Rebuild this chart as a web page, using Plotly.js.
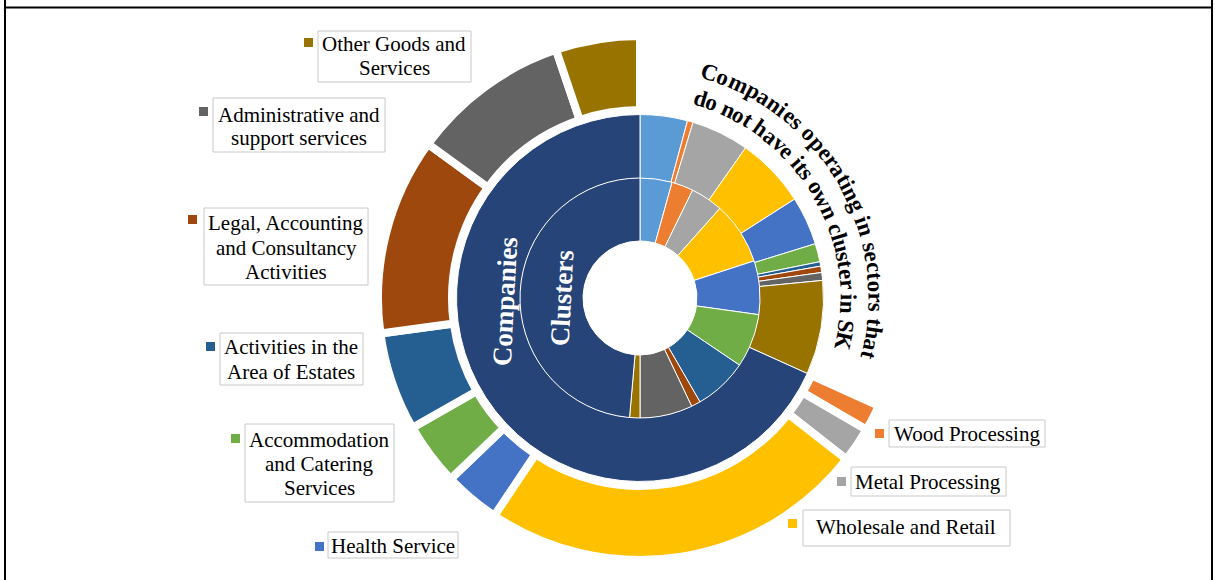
<!DOCTYPE html>
<html><head><meta charset="utf-8">
<script src="https://cdn.plot.ly/plotly-3.0.1.min.js"></script>
<style>html,body{margin:0;padding:0;background:#fff;}#chart{width:1215px;height:580px;}</style>
</head><body><div id="chart"></div>
<script>
// ---------------- data ----------------
const sectors = ['Other Sector', 'Wood Processing', 'Metal Processing', 'Wholesale and Retail',
  'Health Service', 'Accommodation and Catering Services', 'Activities in the Area of Estates',
  'Legal, Accounting and Consultancy Activities', 'Administrative and support services',
  'Other Goods and Services', 'Remaining'];
const sectorColors = ['#5B9BD5', '#ED7D31', '#A5A5A5', '#FFC000', '#4472C4', '#70AD47',
  '#255E91', '#9E480E', '#636363', '#997300', '#264478'];
// inner ring: Clusters
const clusterValues = [15.5, 10.5, 15.7, 30.3, 26, 26, 26, 4.5, 25.5, 5, 175];
// middle ring: Companies
const companyValues = [15.0, 1.8, 18.3, 22.3, 15.4, 5.8, 1.4, 2.0, 2.5, 29.8, 245.7];
// outer ring: companies operating in cluster sectors (first part blank)
const outerSectors = ['Wood Processing', 'Metal Processing', 'Wholesale and Retail', 'Health Service',
  'Accommodation and Catering Services', 'Activities in the Area of Estates',
  'Legal, Accounting and Consultancy Activities', 'Administrative and support services',
  'Other Goods and Services'];
const outerColors = ['#ED7D31', '#A5A5A5', '#FFC000', '#4472C4', '#70AD47', '#255E91', '#9E480E', '#636363', '#997300'];
const outerBlankValue = 114.3;
const outerValues = [5.9, 7.8, 85.8, 12.5, 14.0, 21.9, 43.8, 35.3, 18.7];
const outerLabelLines = [['Wood Processing'], ['Metal Processing'], ['Wholesale and Retail'], ['Health Service'],
  ['Accommodation', 'and Catering', 'Services'], ['Activities in the', 'Area of Estates'],
  ['Legal, Accounting', 'and Consultancy', 'Activities'], ['Administrative and', 'support services'],
  ['Other Goods and', 'Services']];
const ringTitles = ['Companies', 'Clusters'];
const arcTitleLines = ['Companies operating in sectors that', 'do not have its own cluster in SK'];

// ---------------- layout helpers ----------------
const W = 1215, H = 580, CX = 640, CY = 298;
const px = x => x / W, py = y => 1 - y / H;
function dom(R) { return {x: [px(CX - R), px(CX + R)], y: [py(CY + R), py(CY - R)]}; }

const labelPos = [
  {box: [889, 420, 1045, 447], sq: [875, 429], ys: [434], cx: 967},
  {box: [851, 467, 1006, 496], sq: [837, 477], ys: [482], cx: 928},
  {box: [803, 510, 1010, 546], sq: [788, 519], ys: [527], cx: 906},
  {box: [328, 532, 458, 558], sq: [315, 542], ys: [546], cx: 393},
  {box: [245, 424, 394, 502], sq: [231, 434], ys: [440, 464, 488], cx: 319},
  {box: [220, 333, 363, 385], sq: [206, 342], ys: [347, 372], cx: 291},
  {box: [204, 208, 368, 285], sq: [188, 215], ys: [223, 248, 272], cx: 286},
  {box: [213, 98, 385, 152], sq: [199, 107], ys: [115, 138], cx: 299},
  {box: [318, 31, 471, 82], sq: [304, 38], ys: [44, 68], cx: 394}
];

const serif = 'Liberation Serif, Times New Roman, serif';
const traces = [
  {type: 'pie', values: clusterValues, labels: sectors.map(s => 'Clusters: ' + s),
   marker: {colors: sectorColors, line: {color: '#ffffff', width: 1}},
   domain: dom(120.5), hole: 57 / 120.5, sort: false, direction: 'clockwise', rotation: 0,
   textinfo: 'none', hoverinfo: 'label+value', showlegend: false},
  {type: 'pie', values: companyValues, labels: sectors.map(s => 'Companies: ' + s),
   marker: {colors: sectorColors, line: {color: '#ffffff', width: 1}},
   domain: dom(183.5), hole: 120 / 183.5, sort: false, direction: 'clockwise', rotation: 0,
   textinfo: 'none', hoverinfo: 'label+value', showlegend: false},
  {type: 'pie', values: [outerBlankValue].concat(outerValues), labels: ['blank'].concat(outerSectors),
   marker: {colors: ['rgba(0,0,0,0)'].concat(outerColors), line: {color: '#ffffff', width: 8}},
   domain: dom(262), hole: 188 / 262, sort: false, direction: 'clockwise', rotation: 0,
   textinfo: 'none', hoverinfo: 'label+value', showlegend: false}
];

const shapes = [], annotations = [];
// frame
shapes.push({type: 'line', xref: 'paper', yref: 'paper', x0: px(5), x1: px(5), y0: 0, y1: 1, line: {color: '#000', width: 2}});
shapes.push({type: 'line', xref: 'paper', yref: 'paper', x0: px(1212), x1: px(1212), y0: 0, y1: 1, line: {color: '#000', width: 2}});
shapes.push({type: 'line', xref: 'paper', yref: 'paper', x0: px(5), x1: px(1212), y0: py(7.5), y1: py(7.5), line: {color: '#000', width: 2}});

labelPos.forEach((p, i) => {
  shapes.push({type: 'rect', xref: 'paper', yref: 'paper', x0: px(p.box[0]), x1: px(p.box[2]),
    y0: py(p.box[3]), y1: py(p.box[1]), line: {color: '#C8C8C8', width: 1}, fillcolor: '#ffffff'});
  shapes.push({type: 'rect', xref: 'paper', yref: 'paper', x0: px(p.sq[0]), x1: px(p.sq[0] + 9),
    y0: py(p.sq[1] + 9), y1: py(p.sq[1]), line: {width: 0}, fillcolor: outerColors[i]});
  outerLabelLines[i].forEach((t, j) => {
    annotations.push({xref: 'paper', yref: 'paper', x: px(p.cx), y: py(p.ys[j]), text: t, showarrow: false,
      xanchor: 'center', yanchor: 'middle', font: {family: serif, size: 21, color: '#000'}});
  });
});

// ring titles
annotations.push({xref: 'paper', yref: 'paper', x: px(505), y: py(302), text: '<b>' + ringTitles[0] + '</b>',
  showarrow: false, textangle: -87, xanchor: 'center', yanchor: 'middle', font: {family: serif, size: 27, color: '#fff'}});
annotations.push({xref: 'paper', yref: 'paper', x: px(562), y: py(298), text: '<b>' + ringTitles[1] + '</b>',
  showarrow: false, textangle: -87, xanchor: 'center', yanchor: 'middle', font: {family: serif, size: 27, color: '#fff'}});

// curved title
function curved(text, rc, a0, a1, size) {
  const ctx = document.createElement('canvas').getContext('2d');
  ctx.font = 'bold ' + size + 'px "Liberation Serif"';
  const chars = Array.from(text);
  const w = chars.map(c => ctx.measureText(c).width);
  const tot = w.reduce((a, b) => a + b, 0);
  const sc = ((a1 - a0) * Math.PI / 180) * rc / tot;
  let s = 0;
  chars.forEach((c, i) => {
    const mid = s + w[i] * sc / 2;
    s += w[i] * sc;
    if (c === ' ') return;
    const ang = a0 * Math.PI / 180 + mid / rc;
    const x = CX + rc * Math.sin(ang), y = CY - rc * Math.cos(ang);
    annotations.push({xref: 'paper', yref: 'paper', x: px(x), y: py(y), text: '<b>' + c + '</b>', showarrow: false,
      textangle: ang * 180 / Math.PI, xanchor: 'center', yanchor: 'middle',
      font: {family: serif, size: size, color: '#000'}});
  });
}
curved(arcTitleLines[0], 236, 15, 105, 23);
curved(arcTitleLines[1], 208, 15, 104.5, 23);

Plotly.newPlot('chart', traces, {
  width: W, height: H, margin: {l: 0, r: 0, t: 0, b: 0}, showlegend: false,
  paper_bgcolor: '#ffffff', plot_bgcolor: '#ffffff', shapes: shapes, annotations: annotations
}, {displayModeBar: false, staticPlot: true});
</script></body></html>
